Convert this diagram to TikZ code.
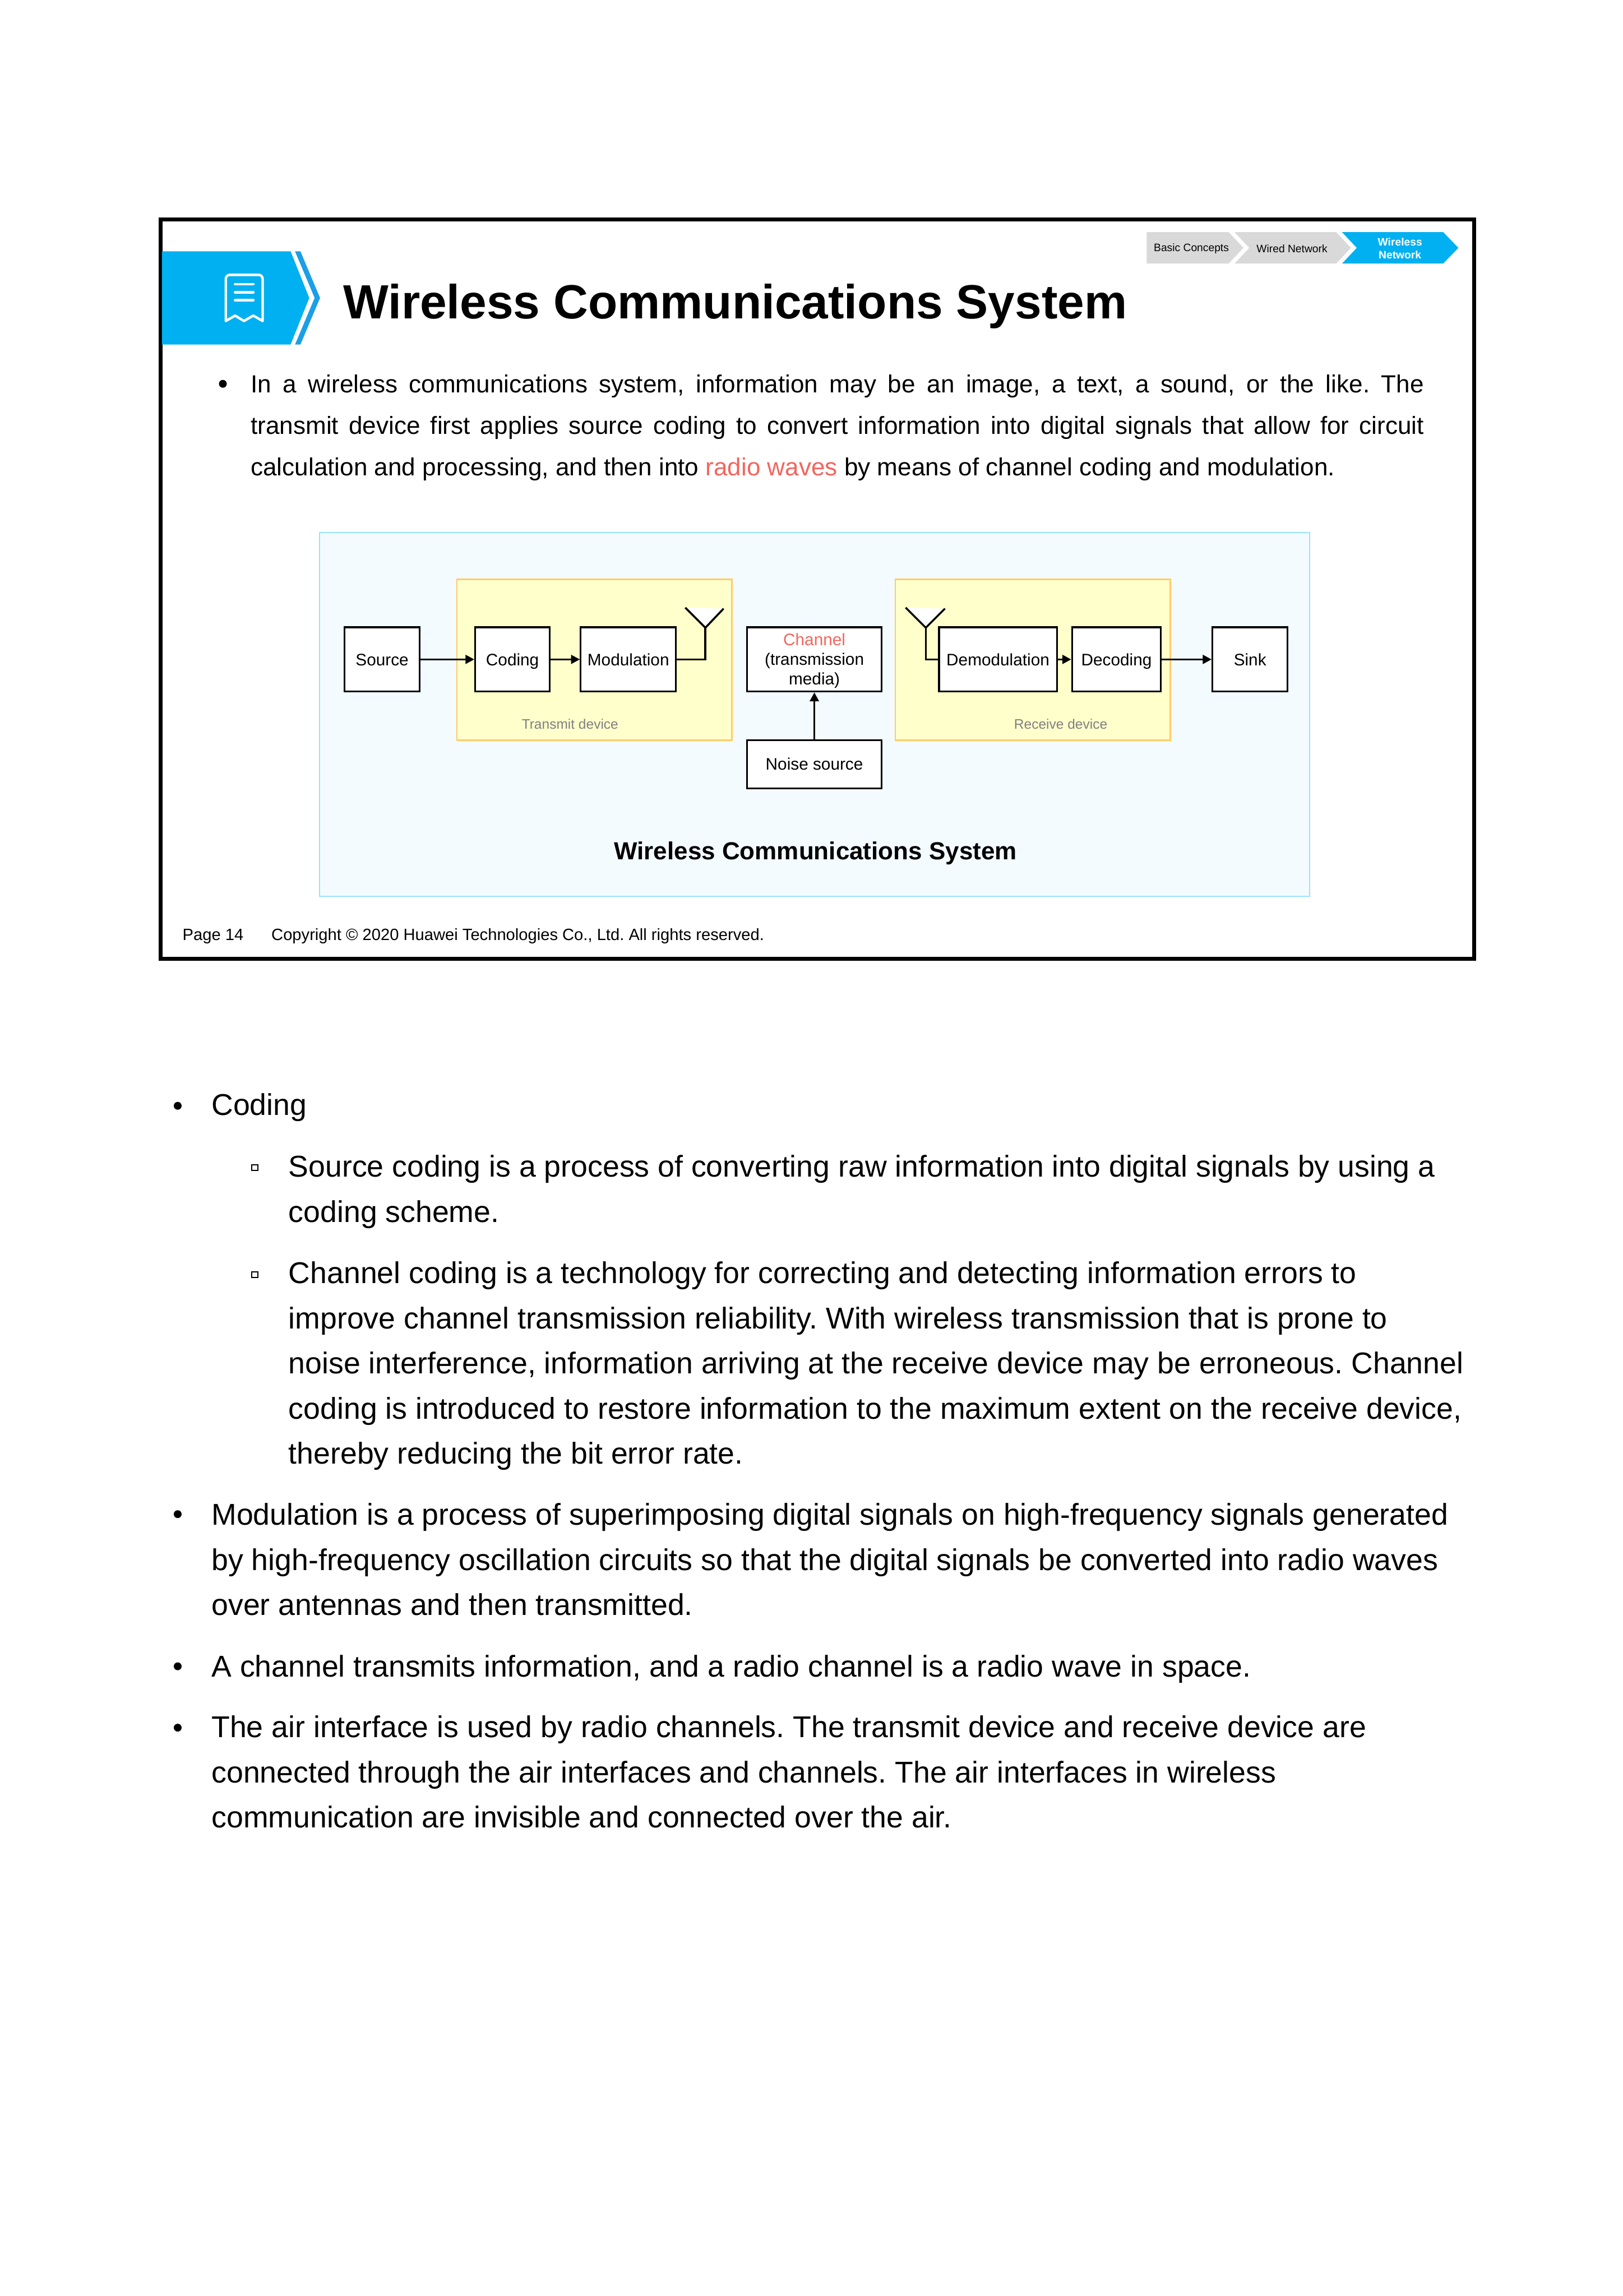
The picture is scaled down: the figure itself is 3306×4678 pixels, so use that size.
\documentclass[tikz,border=0pt]{standalone}
\usepackage{fontspec}
\setmainfont{Liberation Sans}
\usetikzlibrary{arrows.meta}
\definecolor{hwblue}{HTML}{00B0F0}
\definecolor{hwchev}{HTML}{1C9FE6}
\definecolor{crumbgrey}{HTML}{D9D9D9}
\definecolor{panelfill}{HTML}{F3FBFF}
\definecolor{panelline}{HTML}{99E2FF}
\definecolor{devfill}{HTML}{FFFFCC}
\definecolor{devline}{HTML}{FFCC66}
\definecolor{accentred}{HTML}{F2665E}
\definecolor{devtext}{HTML}{808080}
\newcommand{\blk}[6]{\node[blockbox,minimum width={(#3-#2)*0.2pt},minimum height={(#5-#4)*0.2pt}] (#1) at ({(#2+#3)/2},{(#4+#5)/2}) {#6};}
\tikzset{
  x=0.2pt,y=-0.2pt,
  blockbox/.style={draw=black,fill=white,line width=0.7pt,inner sep=0pt,align=center,font=\fontsize{6.8}{8}\selectfont,text height=4.87pt,text depth=0pt},
  link/.style={line width=0.8pt,black},
  arrowlink/.style={link,-{Triangle[length=3.6pt,width=3.6pt]}},
  antenna/.style={fill=white,draw=none},
  antennaline/.style={link,line join=miter},
  devlabel/.style={anchor=base west,inner sep=0pt,text=devtext,font=\fontsize{5.6}{7}\selectfont},
  crumb/.style={inner sep=0pt,align=center,font=\fontsize{4.4}{5.4}\selectfont},
  slidetext/.style={anchor=base west,inner sep=0pt,align=left,font=\fontsize{10.07}{16.9}\selectfont},
  notetext/.style={anchor=base west,inner sep=0pt,align=left,font=\fontsize{12.25}{18.4}\selectfont},
  footertext/.style={anchor=base west,inner sep=0pt,font=\fontsize{6.66}{8}\selectfont},
  bulletdot/.style={circle,fill=black,inner sep=0pt,minimum size=#1},
  subbullet/.style={rectangle,draw=black,line width=0.5pt,inner sep=0pt,minimum size=2.4pt},
}
\begin{document}
\frenchspacing
\begin{tikzpicture}
\useasboundingbox (0,0) rectangle (3306,4678);
\fill[white] (0,0) rectangle (3306,4678);
% slide frame
\draw[black,line width=1.6pt,fill=white] (327,447) rectangle (3003,1953);
% banner
\fill[hwblue] (330,512) -- (592,512) -- (630,607) -- (592,702) -- (330,702) -- cycle;
\fill[hwchev] (601,512) -- (612,512) -- (652,607) -- (612,702) -- (601,702) -- (641,607) -- cycle;
% icon
\draw[white,line width=1pt,line join=round,line cap=round]
  (460,654) [rounded corners=1.6pt] -- (460,560) -- (535,560) [sharp corners] -- (535,654) -- (516,643) -- (497,654) -- (479,643) -- cycle;
\foreach \yy in {579,596,612}{\draw[white,line width=1.1pt,line cap=round] (479,\yy) -- (516,\yy);}
% title
\node[anchor=base west,inner sep=0pt,font=\fontsize{19.56}{24}\selectfont\bfseries] (title) at (698,649) {Wireless Communications System};
% breadcrumb
\fill[crumbgrey] (2336,473) -- (2503,473) -- (2533,505) -- (2503,537) -- (2336,537) -- cycle;
\fill[crumbgrey] (2515,473) -- (2722,473) -- (2752,505) -- (2722,537) -- (2515,537) -- (2545,505) -- cycle;
\fill[hwblue] (2734,473) -- (2940,473) -- (2971,505) -- (2940,537) -- (2734,537) -- (2764,505) -- cycle;
\node[crumb] (cb1) at (2427,507) {Basic Concepts};
\node[crumb] (cb2) at (2632,507) {Wired Network};
\node[crumb,text=white,font=\fontsize{4.4}{5.4}\selectfont\bfseries] (cb3) at (2852,506) {Wireless\\Network};
% slide bullet and text
\node[bulletdot=3.2pt] (sb) at (454,782) {};
\node[slidetext] (slidepara) at (510,969) {\makebox[478pt][s]{In a wireless communications system, information may be an image, a text, a sound, or the like. The}\\
\makebox[478pt][s]{transmit device first applies source coding to convert information into digital signals that allow for circuit}\\
calculation and processing, and then into \textcolor{accentred}{radio waves} by means of channel coding and modulation.};
% panel
\draw[panelline,fill=panelfill,line width=0.6pt] (651,1085) rectangle (2668,1826);
\draw[devline,fill=devfill,line width=0.6pt] (931,1180) rectangle (1491,1508);
\draw[devline,fill=devfill,line width=0.6pt] (1824,1180) rectangle (2384,1508);
\node[devlabel] (txlabel) at (1062,1485) {Transmit device};
\node[devlabel] (rxlabel) at (2065,1485) {Receive device};
% blocks
\blk{src}{702}{855}{1278}{1409}{Source}
\blk{cod}{968}{1120}{1278}{1409}{Coding}
\blk{mod}{1183}{1377}{1278}{1409}{Modulation}
\blk{noise}{1522}{1796}{1508}{1606}{Noise source}
\blk{dem}{1913}{2153}{1278}{1409}{Demodulation}
\blk{dec}{2184}{2365}{1278}{1409}{Decoding}
\blk{snk}{2470}{2623}{1278}{1409}{Sink}
\node[blockbox,text height=,text depth=,minimum width=54.8pt,minimum height=26.2pt] (chan) at (1659,1343.5) {\rule{0pt}{6.1pt}\textcolor{accentred}{Channel}\\(transmission\\media)};
% antennas
\coordinate (txtip) at (1437,1279);
\coordinate (txl) at (1396,1238);
\coordinate (txr) at (1474,1240);
\coordinate (rxtip) at (1886,1279);
\coordinate (rxl) at (1845,1238);
\coordinate (rxr) at (1925,1240);
\fill[antenna] (txl) -- (txtip) -- (txr) -- cycle;
\fill[antenna] (rxl) -- (rxtip) -- (rxr) -- cycle;
\draw[antennaline] (txl) -- (txtip) -- (txr);
\draw[antennaline] (rxl) -- (rxtip) -- (rxr);
\draw[link] (mod.east) -| (txtip);
\draw[link] (dem.west) -| (rxtip);
% connectors
\draw[arrowlink] (src.east) -- (cod.west);
\draw[arrowlink] (cod.east) -- (mod.west);
\draw[arrowlink] (dem.east) -- (dec.west);
\draw[arrowlink] (dec.east) -- (snk.west);
\draw[arrowlink] (noise.north) -- (chan.south);
% panel caption
\node[anchor=base west,inner sep=0pt,font=\fontsize{10.05}{12}\selectfont\bfseries] (cap) at (1250,1751) {Wireless Communications System};
% footer
\node[footertext] (pg) at (371,1916) {Page 14};
\node[footertext] (copy) at (552,1916) {Copyright © 2020 Huawei Technologies Co., Ltd. All rights reserved.};
% notes
\node[bulletdot=3.2pt] (b1) at (362,2253) {};
\node[notetext] (n1) at (430,2272) {Coding};
\node[subbullet] (s1) at (519,2379) {};
\node[notetext] (n2) at (587,2490) {Source coding is a process of converting raw information into digital signals by using a\\coding scheme.};
\node[subbullet] (s2) at (519,2597) {};
\node[notetext] (n3) at (587,2983) {Channel coding is a technology for correcting and detecting information errors to\\improve channel transmission reliability. With wireless transmission that is prone to\\noise interference, information arriving at the receive device may be erroneous. Channel\\coding is introduced to restore information to the maximum extent on the receive device,\\thereby reducing the bit error rate.};
\node[bulletdot=3.2pt] (b2) at (362,3085) {};
\node[notetext] (n4) at (430,3291) {Modulation is a process of superimposing digital signals on high-frequency signals generated\\by high-frequency oscillation circuits so that the digital signals be converted into radio waves\\over antennas and then transmitted.};
\node[bulletdot=3.2pt] (b3) at (362,3395) {};
\node[notetext] (n5) at (430,3417) {A channel transmits information, and a radio channel is a radio wave in space.};
\node[bulletdot=3.2pt] (b4) at (362,3520) {};
\node[notetext] (n6) at (430,3724) {The air interface is used by radio channels. The transmit device and receive device are\\connected through the air interfaces and channels. The air interfaces in wireless\\communication are invisible and connected over the air.};
\end{tikzpicture}
\end{document}
